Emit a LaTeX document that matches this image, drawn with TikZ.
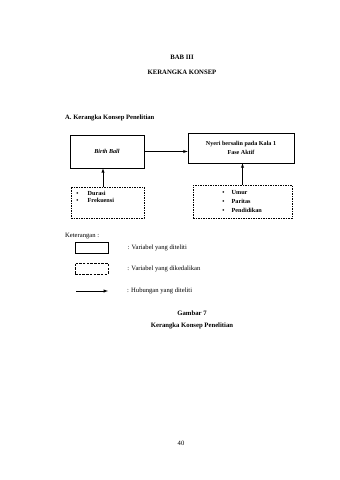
\documentclass[tikz,border=0pt]{standalone}
\usepackage{fontspec}
\setmainfont{Liberation Serif}
\usetikzlibrary{positioning}

\begin{document}
\begin{tikzpicture}[x=1pt, y=-1pt, font=\fontsize{6.6}{8}\selectfont,
    varbox/.style={draw, line width=0.6pt, align=center, inner sep=0pt, font=\fontsize{6.1}{8.5}\selectfont\bfseries},
    ctrlbox/.style={draw, line width=0.5pt, dash pattern=on 1.5pt off 1pt, inner sep=0pt},
    itemlist/.style={anchor=north west, align=left, inner sep=0pt, font=\fontsize{6.2}{6.2}\selectfont\bfseries},
    conn/.style={-latex, line width=0.5pt},
    keytext/.style={right=19pt of #1, anchor=west, inner sep=0pt}]
  \useasboundingbox (0,0) rectangle (340,480);
  \fill[white] (0,0) rectangle (340,480);

  \node[font=\fontsize{6.7}{8}\selectfont\bfseries] (bab) at (182,57) {BAB III};
  \node[font=\fontsize{6.7}{8}\selectfont\bfseries] (judul) at (182,72) {KERANGKA KONSEP};
  \node[anchor=west, inner sep=0pt, font=\fontsize{6.6}{8}\selectfont\bfseries] (sub) at (65,118) {A. Kerangka Konsep Penelitian};

  % variabel yang diteliti
  \node[varbox, minimum width=74pt, minimum height=33pt] (bb) at (107,151.5) {\textbf{\textit{Birth Ball}}};
  \node[varbox, minimum width=106pt, minimum height=30pt] (nyeri) at (241,148) {Nyeri bersalin pada Kala 1\\Fase Aktif};

  % variabel yang dikendalikan
  \node[ctrlbox, minimum width=73pt, minimum height=31pt] (dur) at (107.5,202.5) {};
  \node[ctrlbox, minimum width=99pt, minimum height=33pt] (umur) at (242.5,201.5) {};
  \node[itemlist] (durlist) at ([shift={(5.5,4)}]dur.north west)
    {\textbullet\hspace{9pt}Durasi\\[0.6pt]\textbullet\hspace{9pt}Frekuensi};
  \node[itemlist, font=\fontsize{6.2}{9}\selectfont\bfseries] (umurlist) at ([shift={(29.5,5)}]umur.north west)
    {\textbullet\hspace{7pt}Umur\\\textbullet\hspace{7pt}Paritas\\\textbullet\hspace{7pt}Pendidikan};

  \draw[conn] (bb.east) -- (bb.east -| nyeri.west);
  \draw[conn] ([xshift=-4.5pt]dur.north) -- ([xshift=-4.5pt]dur.north |- bb.south);
  \draw[conn] (umur.north) -- (umur.north |- nyeri.south);

  % keterangan
  \node[anchor=west, inner sep=0pt] (ket) at (65,236) {Keterangan :};
  \node[draw, line width=0.6pt, minimum width=33pt, minimum height=11pt, inner sep=0pt] (key1) at (91.5,247.5) {};
  \node[draw, line width=0.5pt, dash pattern=on 2.5pt off 1.2pt, minimum width=33pt, minimum height=11pt, inner sep=0pt] (key2) at (91.5,268.5) {};
  \coordinate (ka) at (76,291);
  \coordinate (kb) at (108,291);
  \draw[conn] (ka) -- (kb);
  \node[keytext=key1] (t1) {: Variabel yang diteliti};
  \node[keytext=key2] (t2) {: Variabel yang dikedalikan};
  \node[keytext=kb] (t3) {: Hubungan yang diteliti};

  \node[font=\fontsize{6.7}{8}\selectfont\bfseries] (gbr) at (192,313) {Gambar 7};
  \node[font=\fontsize{6.7}{8}\selectfont\bfseries] (cap) at (192,326) {Kerangka Konsep Penelitian};
  \node (hal) at (181,443) {40};
\end{tikzpicture}
\end{document}
